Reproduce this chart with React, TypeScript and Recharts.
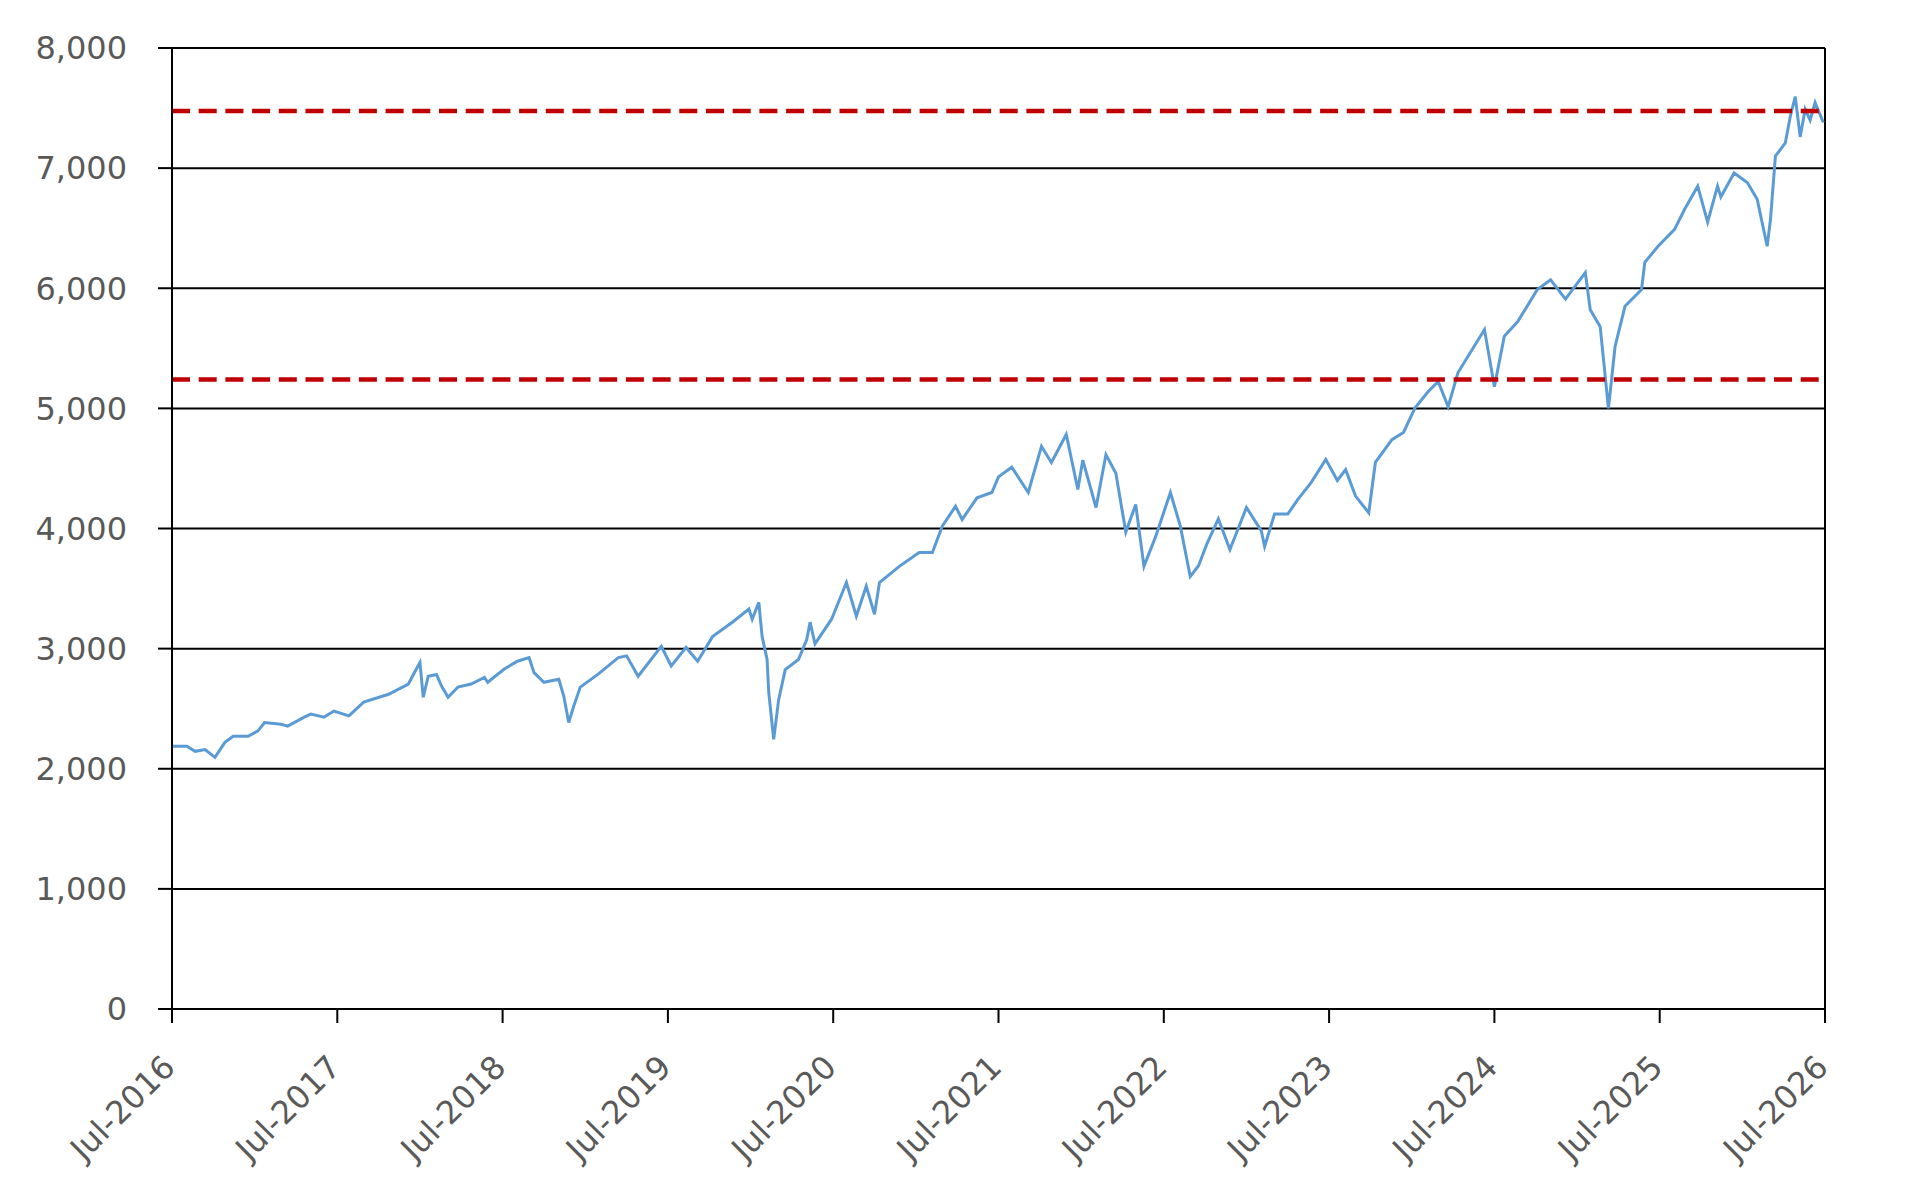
import React from 'react';
import { LineChart, Line, XAxis, YAxis, CartesianGrid, ReferenceLine } from 'recharts';

// positions (fractional year, Jul-2016 = 2016.5)
const dates = [
  2016.50, 2016.59, 2016.64, 2016.70, 2016.76, 2016.82, 2016.87, 2016.96, 2017.02, 2017.06,
  2017.16, 2017.20, 2017.30, 2017.34, 2017.42, 2017.48, 2017.57, 2017.66, 2017.81, 2017.93,
  2017.97, 2018.00, 2018.02, 2018.05, 2018.10, 2018.13, 2018.17, 2018.23, 2018.31, 2018.39,
  2018.41, 2018.51, 2018.59, 2018.66, 2018.69, 2018.75, 2018.84, 2018.87, 2018.90, 2018.93,
  2018.97, 2019.08, 2019.20, 2019.25, 2019.32, 2019.46, 2019.52, 2019.61, 2019.68, 2019.77,
  2019.89, 2019.99, 2020.01, 2020.05, 2020.07, 2020.10, 2020.11, 2020.14, 2020.17, 2020.21,
  2020.29, 2020.34, 2020.36, 2020.39, 2020.49, 2020.58, 2020.64, 2020.70, 2020.75, 2020.78,
  2020.90, 2021.02, 2021.10, 2021.16, 2021.24, 2021.28, 2021.37, 2021.46, 2021.50, 2021.58,
  2021.68, 2021.76, 2021.82, 2021.91, 2021.98, 2022.01, 2022.09, 2022.15, 2022.21, 2022.27,
  2022.33, 2022.38, 2022.45, 2022.54, 2022.60, 2022.66, 2022.71, 2022.76, 2022.83, 2022.90,
  2023.00, 2023.09, 2023.11, 2023.17, 2023.25, 2023.31, 2023.39, 2023.48, 2023.55, 2023.60,
  2023.66, 2023.74, 2023.78, 2023.88, 2023.95, 2024.02, 2024.10, 2024.16, 2024.22, 2024.28,
  2024.44, 2024.50, 2024.56, 2024.64, 2024.76, 2024.84, 2024.93, 2025.05, 2025.08, 2025.14,
  2025.19, 2025.23, 2025.29, 2025.39, 2025.41, 2025.49, 2025.59, 2025.65, 2025.73, 2025.79,
  2025.85, 2025.87, 2025.95, 2026.03, 2026.09, 2026.15, 2026.17, 2026.20, 2026.26, 2026.29,
  2026.32, 2026.35, 2026.38, 2026.41, 2026.44, 2026.49,
];

const index = [
  2187, 2187, 2145, 2160, 2095, 2220, 2270, 2270, 2315, 2385,
  2370, 2355, 2430, 2455, 2430, 2480, 2440, 2555, 2620, 2705,
  2810, 2885, 2595, 2770, 2785, 2690, 2595, 2680, 2705, 2760,
  2720, 2830, 2895, 2925, 2800, 2720, 2745, 2605, 2385, 2520,
  2680, 2790, 2925, 2940, 2770, 3020, 2855, 3010, 2895, 3100,
  3220, 3330, 3245, 3385, 3100, 2910, 2635, 2245, 2575, 2825,
  2910, 3075, 3220, 3040, 3245, 3550, 3270, 3520, 3285, 3550,
  3685, 3800, 3800, 4020, 4185, 4075, 4255, 4300, 4430, 4510,
  4300, 4683, 4550, 4783, 4325, 4570, 4175, 4615, 4460, 3970,
  4200, 3685, 3930, 4300, 4020, 3600, 3690, 3870, 4080, 3825,
  4175, 3980, 3850, 4120, 4120, 4240, 4380, 4575, 4400, 4490,
  4270, 4130, 4550, 4740, 4800, 5005, 5140, 5225, 5015, 5298,
  5656, 5180, 5600, 5720, 5990, 6070, 5910, 6130, 5820, 5680,
  5000, 5515, 5850, 5990, 6215, 6350, 6490, 6655, 6850, 6550,
  6850, 6760, 6960, 6880, 6740, 6350, 6570, 7100, 7210, 7430,
  7595, 7260, 7490, 7400, 7545, 7380,
];

const xTicks = [2016.5, 2017.5, 2018.5, 2019.5, 2020.5, 2021.5, 2022.5, 2023.5, 2024.5, 2025.5, 2026.5];
const xTickLabels = ['Jul-2016', 'Jul-2017', 'Jul-2018', 'Jul-2019', 'Jul-2020', 'Jul-2021', 'Jul-2022', 'Jul-2023', 'Jul-2024', 'Jul-2025', 'Jul-2026'];
const yTicks = [0, 1000, 2000, 3000, 4000, 5000, 6000, 7000, 8000];
const upperBand = 7475;
const lowerBand = 5240;

const rows = dates.map((t, i) => ({ t, value: index[i] }));

const FONT = 'DejaVu Sans, Verdana, sans-serif';
const LABEL = '#595959';

function DateTick({ x, y, payload }: any) {
  const px = x + 5;
  const label = xTickLabels[xTicks.indexOf(payload.value)] ?? '';
  return (
    <text x={px} y={y} transform={`rotate(-45 ${px} ${y})`} textAnchor="end" fill={LABEL} fontSize={32} fontFamily={FONT}>
      {label}
    </text>
  );
}

export default function App() {
  return (
    <div style={styles.page}>
      <LineChart width={1900} height={1180} data={rows} margin={{ top: 40, right: 83, left: 0, bottom: 0 }}>
        <CartesianGrid vertical={false} stroke="#000" strokeWidth={2} />
        <XAxis
          dataKey="t"
          type="number"
          domain={[2016.5, 2026.5]}
          ticks={xTicks}
          interval={0}
          allowDataOverflow
          height={179}
          tickSize={14}
          tickMargin={46}
          tick={<DateTick />}
          axisLine={{ stroke: '#000', strokeWidth: 2 }}
          tickLine={{ stroke: '#000', strokeWidth: 2 }}
        />
        <YAxis
          type="number"
          domain={[0, 8000]}
          ticks={yTicks}
          interval={0}
          width={164}
          tickSize={14}
          tickMargin={31}
          tickFormatter={(v: number) => v.toLocaleString('en-US')}
          tick={{ fill: LABEL, fontSize: 32, fontFamily: FONT }}
          axisLine={{ stroke: '#000', strokeWidth: 2 }}
          tickLine={{ stroke: '#000', strokeWidth: 2 }}
        />
        <ReferenceLine x={2026.5} stroke="#000" strokeWidth={2} />
        <Line type="linear" dataKey="value" stroke="#5B9BD5" strokeWidth={3} dot={false} isAnimationActive={false} />
        <ReferenceLine y={upperBand} stroke="#C00000" strokeWidth={4.5} strokeDasharray="18 8.7" />
        <ReferenceLine y={lowerBand} stroke="#C00000" strokeWidth={4.5} strokeDasharray="18 8.7" />
      </LineChart>
    </div>
  );
}

const styles: Record<string, React.CSSProperties> = {
  page: { width: 1900, height: 1180, background: '#fff' },
};
